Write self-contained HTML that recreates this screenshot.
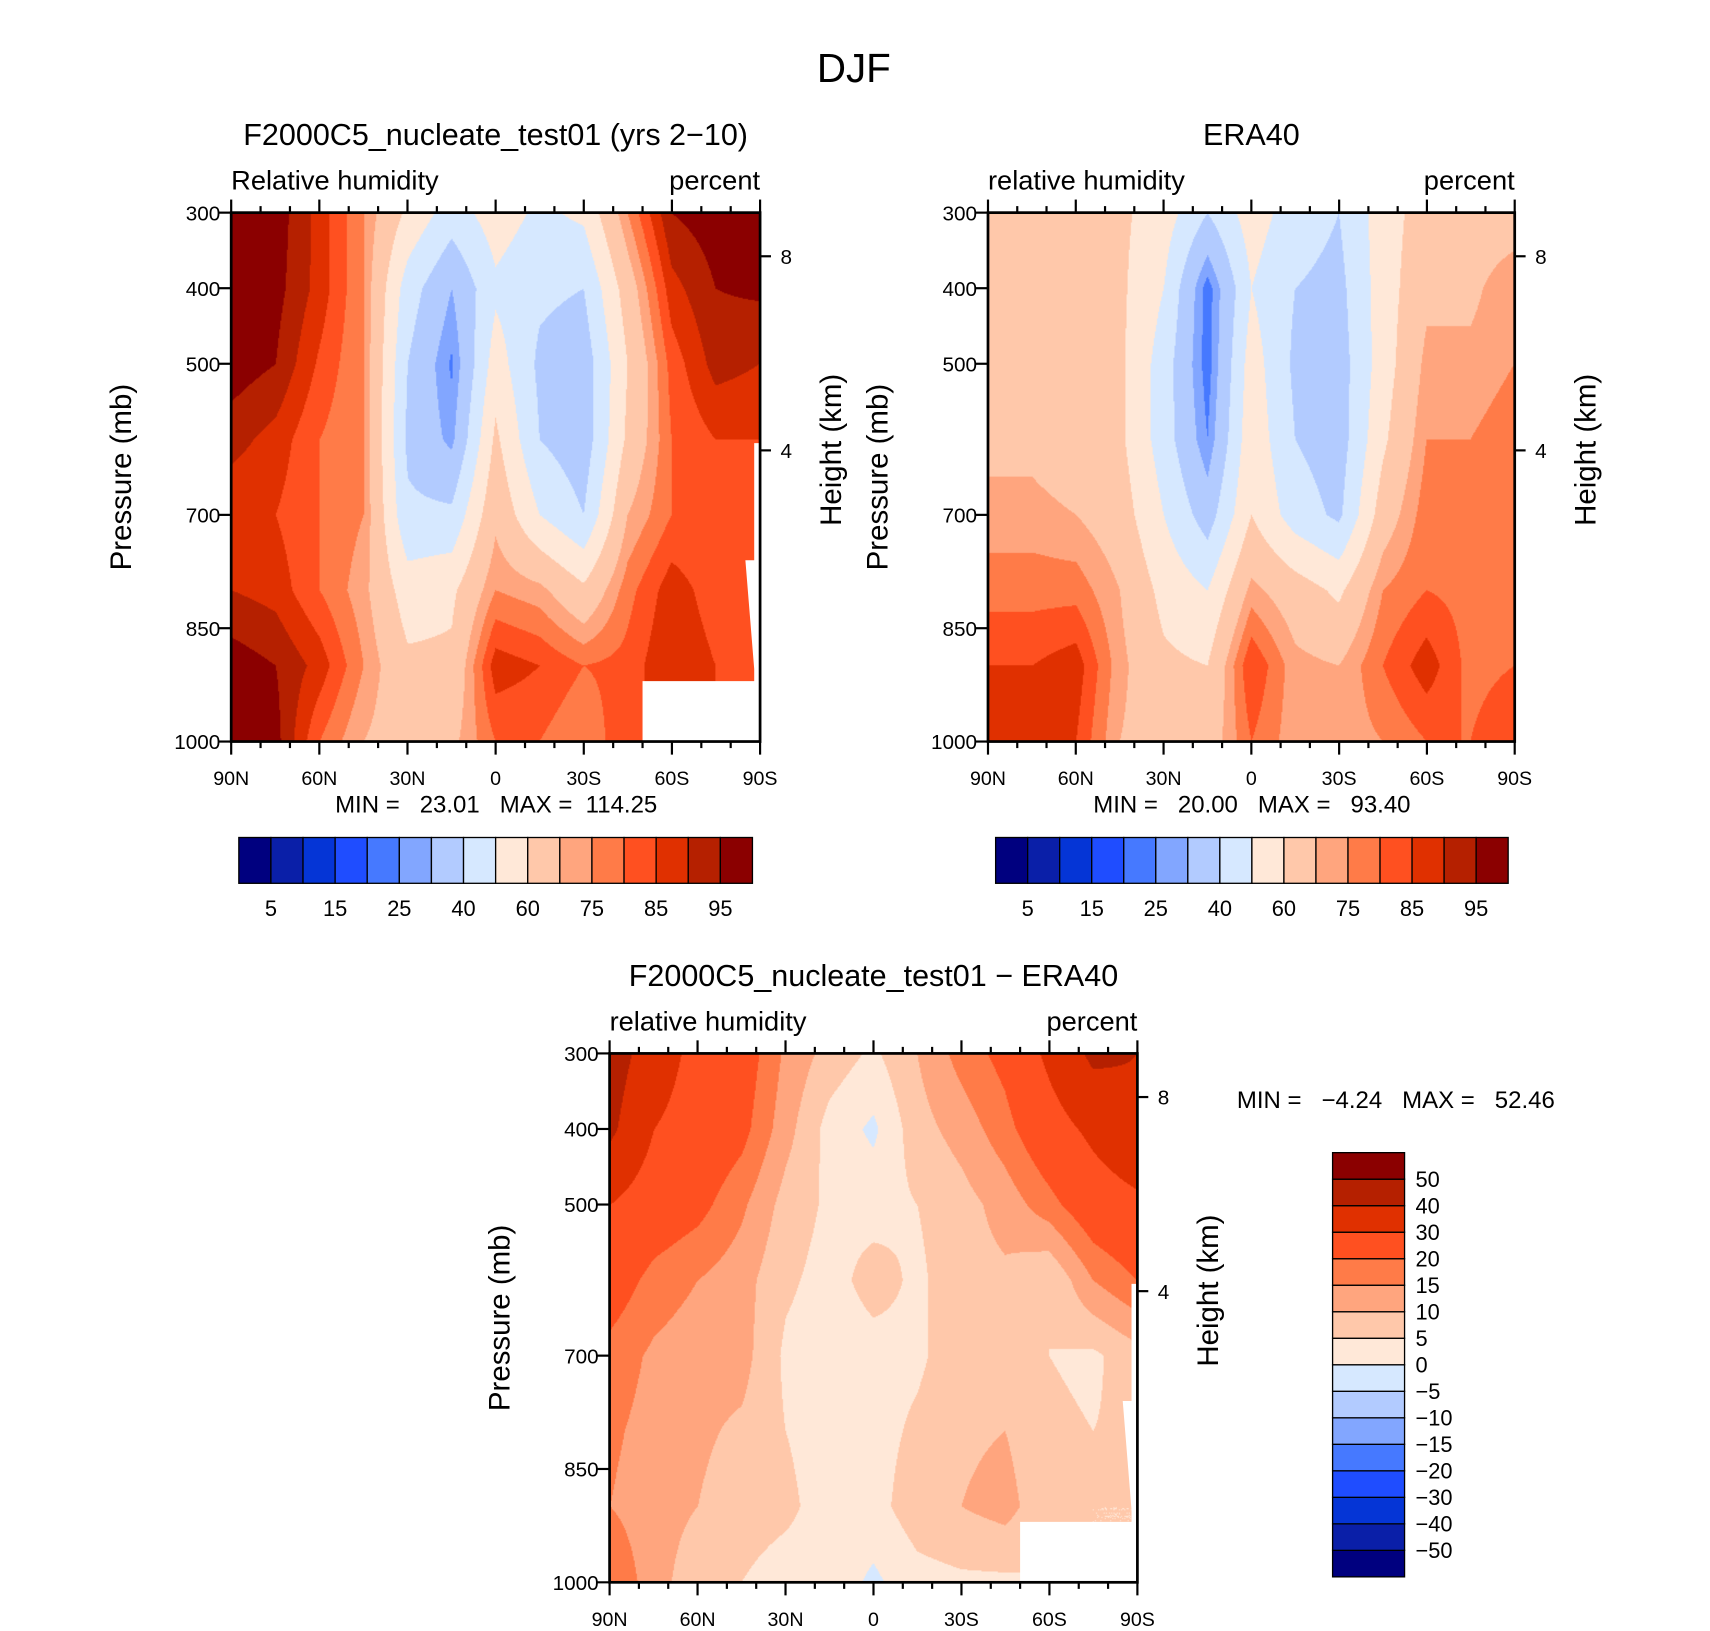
<!DOCTYPE html>
<html><head><meta charset="utf-8">
<style>
body{margin:0;background:#fff;}
#root{position:relative;width:1710px;height:1631px;overflow:hidden;background:#fff;}
#stage{position:absolute;left:0;top:0;width:1568px;height:1496px;transform:scale(1.0905);transform-origin:0 0;}
canvas{position:absolute;}
svg{position:absolute;left:0;top:0;}
text{font-family:"Liberation Sans",sans-serif;fill:#000;white-space:pre;}
</style></head>
<body>
<div id="root">
<div id="stage">
<canvas id="c1" width="485" height="485" style="left:212px;top:195px"></canvas>
<canvas id="c2" width="483" height="485" style="left:906px;top:195px"></canvas>
<canvas id="c3" width="484" height="485" style="left:559px;top:966px"></canvas>
<svg id="s" width="1568" height="1496"></svg>
</div>
</div>
<script>
// ---------- data ----------
const lats = [90,75,60,45,30,15,0,-15,-30,-45,-60,-75,-90];
const pressures = [300,400,500,600,700,800,900,1000];
const modelRH = [
[98,98,88,75,58,45,55,48,52,75,95,98,98],
[98,97,88,75,45,30,48,42,40,65,88,95,96],
[98,95,84,75,40,24,55,38,34,60,82,92,90],
[92,88,80,75,38,28,62,40,34,62,80,85,85],
[86,85,80,75,42,42,68,50,40,70,80,80,80],
[90,88,80,72,55,58,75,72,62,78,88,82,80],
[98,95,88,75,62,62,88,85,80,82,90,85,82],
[98,97,80,70,65,68,80,80,75,85,85,85,85]];
const eraRH = [
[65,65,65,62,55,40,55,45,40,55,65,65,65],
[65,65,63,62,50,22,50,40,37,55,68,68,75],
[65,65,62,62,45,22,55,38,35,55,72,72,75],
[68,68,65,62,45,25,57,40,35,58,75,75,78],
[72,72,70,65,50,35,60,45,38,65,78,78,80],
[78,78,78,70,57,50,72,65,58,75,80,78,80],
[85,85,88,72,62,60,85,72,70,80,88,78,80],
[88,85,85,70,65,65,80,72,72,75,80,80,85]];
const diffRH = [
[45,35,27,24,14,8,4,10,17,22,32,42,40],
[42,30,26,22,12,3,-1,8,12,18,26,32,38],
[30,25,22,16,8,4,3,5,8,12,18,25,28],
[24,18,15,12,6,3,7,4,8,9,5,15,20],
[18,14,12,12,4,2,3,4,8,7,5,4,8],
[16,13,11,9,5,3,3,6,9,10,6,5,6],
[15,12,10,7,6,3,3,8,10,12,6,5,5],
[20,12,7,5,3,3,-1,3,4,4,5,5,5]];
const rhLevels = [5,10,15,20,25,30,40,50,60,70,75,80,85,90,95];
const rhLabels = ["5","15","25","40","60","75","85","95"];
const diffLevels = [-50,-40,-30,-20,-15,-10,-5,0,5,10,15,20,30,40,50];
const diffLabels = ["50","40","30","20","15","10","5","0","\u22125","\u221210","\u221215","\u221220","\u221230","\u221240","\u221250"];
const xTickLabels = ["90N","60N","30N","0","30S","60S","90S"];
const xTickLats = [90,60,30,0,-30,-60,-90];
const yTickVals = [300,400,500,700,850,1000];
const colors = ["#00007f","#0a1fa8","#0535d6","#1f4dff","#4679ff","#82a6ff","#b2cbff","#d6e8ff","#ffe8d8","#ffc8aa","#ffa57e","#ff7b48","#ff5020","#e03000","#b52000","#8b0000"];

// ---------- helpers ----------
function hex(c){return [parseInt(c.slice(1,3),16),parseInt(c.slice(3,5),16),parseInt(c.slice(5,7),16)];}
const rgb = colors.map(hex);
function interp(grid, lat, p){
  let fi = (90-lat)/15; let i0=Math.min(Math.floor(fi),11); let tx=fi-i0;
  let j0=0; while(j0<pressures.length-2 && p>pressures[j0+1]) j0++;
  let ty=(p-pressures[j0])/(pressures[j0+1]-pressures[j0]);
  const a=grid[j0][i0],b=grid[j0][i0+1],c=grid[j0+1][i0],d=grid[j0+1][i0+1];
  return a*(1-tx)*(1-ty)+b*tx*(1-ty)+c*(1-tx)*ty+d*tx*ty;
}
function fill(id, grid, levels){
  const cv=document.getElementById(id), ctx=cv.getContext('2d');
  const W=cv.width,H=cv.height, img=ctx.createImageData(W,H);
  for(let y=0;y<H;y++){const p=300+y/(H-1)*700;
    for(let x=0;x<W;x++){const lat=90-x/(W-1)*180;
      const v=interp(grid,lat,p); let k=0; while(k<levels.length && v>=levels[k]) k++;
      const c=rgb[k], o=(y*W+x)*4; img.data[o]=c[0];img.data[o+1]=c[1];img.data[o+2]=c[2];img.data[o+3]=255;}}
  ctx.putImageData(img,0,0);
}
fill('c1',modelRH,rhLevels); fill('c2',eraRH,rhLevels); fill('c3',diffRH,diffLevels);

const svg=document.getElementById('s'); const NS='http://www.w3.org/2000/svg';
function el(tag,attrs,txt){const e=document.createElementNS(NS,tag);for(const k in attrs)e.setAttribute(k,attrs[k]);if(txt!==undefined)e.textContent=txt;svg.appendChild(e);return e;}
function txt(x,y,s,size,anchor,name,rot){const t=el('text',{x:x,y:y,'font-size':size,'text-anchor':anchor||'middle'},s);
  if(rot)t.setAttribute('transform','rotate(-90 '+x+' '+y+')');
  
  return t;}

function panel(px,py,W,H,title,left,right,tag){
  const X=lat=>px+(90-lat)/180*W, Y=p=>py+(p-300)/700*H;
  if(tag!=='era'){
    const m=el('path',{d:'M'+X(-50)+' '+Y(920)+' H'+(px+W)+' V'+(py+H)+' H'+X(-50)+' Z M'+X(-88)+' '+Y(605)+' H'+(px+W)+' V'+(py+H)+' H'+X(-88)+' Z M'+X(-85)+' '+Y(760)+' H'+(px+W)+' V'+(py+H)+' Z',fill:'#fff'});
    
    
  }
  const f=el('rect',{x:px,y:py,width:W,height:H,fill:'none',stroke:'#000','stroke-width':2.5});
  
  
  for(let lat=90;lat>=-90;lat-=10){const x=X(lat);const major=lat%30===0;const len=major?12:6;
    el('line',{x1:x,y1:py,x2:x,y2:py-len,stroke:'#000','stroke-width':2});
    el('line',{x1:x,y1:py+H,x2:x,y2:py+H+len,stroke:'#000','stroke-width':2});}
  xTickLats.forEach((lat,i)=>txt(X(lat),py+H+40,xTickLabels[i],18,'middle',tag+'-x-tick-label'));
  yTickVals.forEach(p=>{el('line',{x1:px,y1:Y(p),x2:px-12,y2:Y(p),stroke:'#000','stroke-width':2});
    txt(px-10,Y(p)+7,String(p),19,'end',tag+'-y-tick-label');});
  [[8,40],[4,218]].forEach(h=>{el('line',{x1:px+W,y1:py+h[1],x2:px+W+10,y2:py+h[1],stroke:'#000','stroke-width':2});
    txt(px+W+24,py+h[1]+7,String(h[0]),19,'middle',tag+'-height-tick-label');});
  txt(px+W/2,py-62,title,28,'middle',tag+'-title');
  txt(px,py-21,left,25,'start',tag+'-variable-label');
  txt(px+W,py-21,right,25,'end',tag+'-units-label');
  txt(px-92,py+H/2,'Pressure (mb)',27,'middle',tag+'-y-axis-title',true);
  txt(px+W+74,py+H/2-25,'Height (km)',27,'middle',tag+'-height-axis-title',true);
}
txt(783,75,'DJF',37,'middle','figure-title');
panel(212,195,485,485,'F2000C5_nucleate_test01 (yrs 2\u221210)','Relative humidity','percent','model');
panel(906,195,483,485,'ERA40','relative humidity','percent','era');
panel(559,966,484,485,'F2000C5_nucleate_test01 \u2212 ERA40','relative humidity','percent','diff');
txt(455,745,'MIN =   23.01   MAX =  114.25',22,'middle','model-min-max');
txt(1148,745,'MIN =   20.00   MAX =   93.40',22,'middle','era-min-max');
txt(1280,1016,'MIN =   \u22124.24   MAX =   52.46',22,'middle','diff-min-max');

function hbar(x0,y0,W,H,tag){const bw=W/16;
  colors.forEach((c,i)=>{const r=el('rect',{x:x0+i*bw,y:y0,width:bw,height:H,fill:c,stroke:'#000','stroke-width':1.2});
    
    });
  rhLabels.forEach((l,i)=>txt(x0+(2*i+1)*bw,y0+H+30,l,20,'middle',tag+'-colorbar-label'));
}
hbar(219,768,471,42,'model'); hbar(913,768,470,42,'era');
(function(){const x0=1222,y0=1057,W=66,H=389,bh=H/16;
  colors.forEach((c,i)=>{const r=el('rect',{x:x0,y:y0+H-(i+1)*bh,width:W,height:bh,fill:c,stroke:'#000','stroke-width':1.2});
    
    });
  diffLabels.forEach((l,i)=>txt(x0+W+10,y0+(i+1)*bh+7,l,20,'start','diff-colorbar-label'));
})();
</script>
</body></html>
